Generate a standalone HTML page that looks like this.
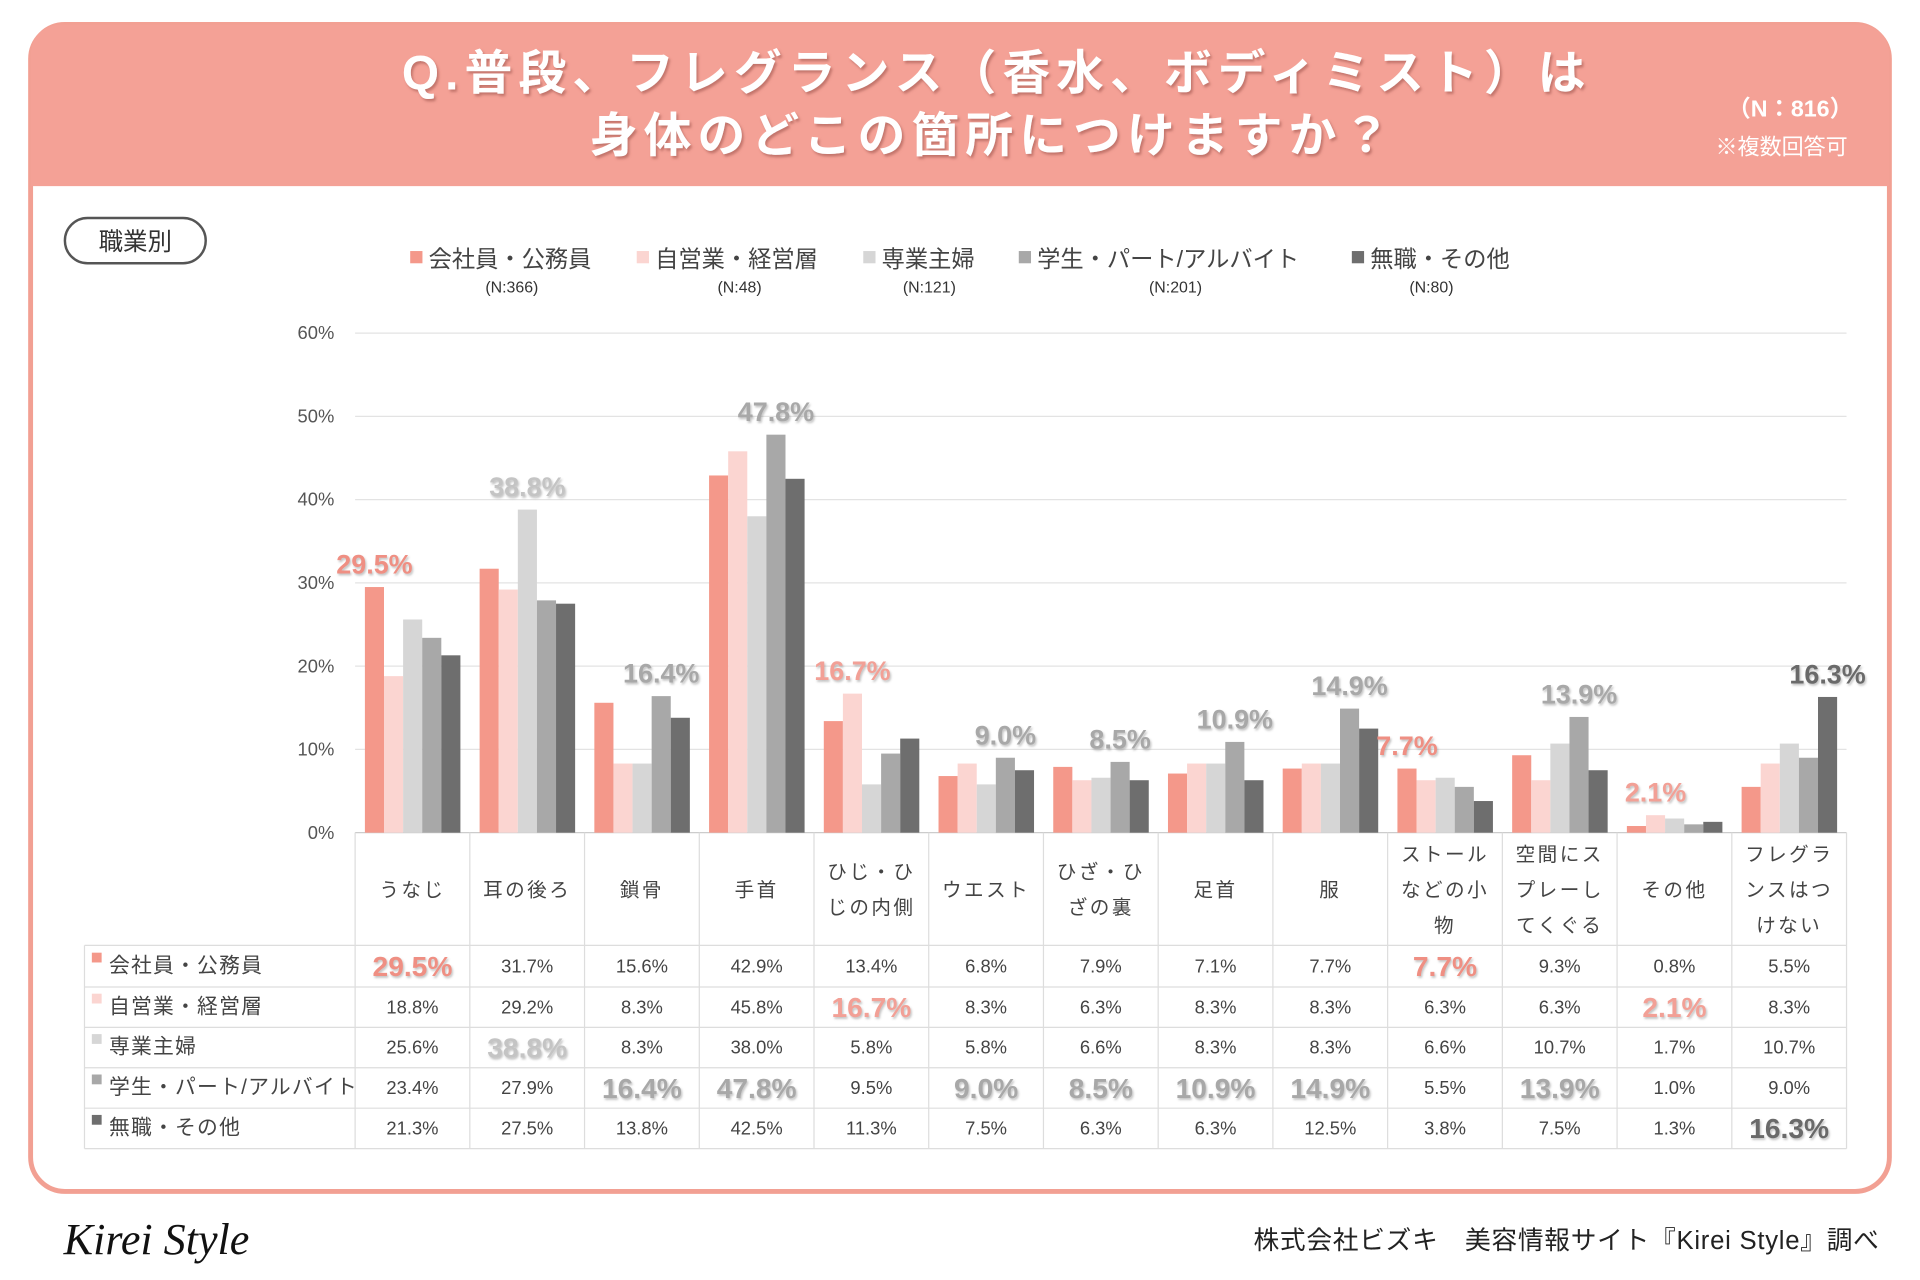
<!DOCTYPE html>
<html><head><meta charset="utf-8"><style>
html,body{margin:0;padding:0;background:#fff;}
svg{display:block;font-family:"Liberation Sans","Noto Sans CJK JP",sans-serif;}
</style></head><body>
<svg id="c" width="1920" height="1280" viewBox="0 0 1568 1045.3">
<defs><filter id="sh" x="-10%" y="-10%" width="120%" height="130%"><feDropShadow dx="1.5" dy="2" stdDeviation="1" flood-color="#9a5048" flood-opacity="0.55"/></filter>
<filter id="sh2" x="-10%" y="-10%" width="120%" height="130%"><feDropShadow dx="1" dy="1.5" stdDeviation="0.8" flood-color="#777" flood-opacity="0.45"/></filter></defs>
<rect x="25" y="20" width="1518" height="953" rx="28" fill="#fff" stroke="#f2a093" stroke-width="4"/>
<path d="M25 152 V48 Q25 20 53 20 H1515 Q1543 20 1543 48 V152 Z" fill="#f4a196"/>
<g fill="#fff" font-weight="bold" font-size="39" text-anchor="middle" filter="url(#sh)" letter-spacing="5">
<text x="814" y="73">Q.普段、フレグランス（香水、ボディミスト）は</text>
<text x="811" y="124">身体のどこの箇所につけますか？</text></g>
<text x="1462" y="95" fill="#fff" font-size="19" text-anchor="middle" font-weight="bold">（N：816）</text>
<text x="1455" y="126" fill="#fff" font-size="18" text-anchor="middle">※複数回答可</text>
<rect x="53" y="178" width="115" height="37" rx="18.5" fill="#fff" stroke="#555" stroke-width="2"/>
<text x="110.5" y="204" font-size="20" text-anchor="middle" fill="#333">職業別</text>
<g id="legend"></g><g id="plot"></g><g id="table"></g>
<text x="52" y="1024" font-family="'Liberation Serif',serif" font-style="italic" font-size="36" fill="#111">Kirei Style</text>
<text x="1535" y="1020" font-size="21" text-anchor="end" fill="#222" letter-spacing="0.6">株式会社ビズキ　美容情報サイト『Kirei Style』調べ</text>
</svg>
<script>
const categories=["うなじ","耳の後ろ","鎖骨","手首","ひじ・ひ|じの内側","ウエスト","ひざ・ひ|ざの裏","足首","服","ストール|などの小|物","空間にス|プレーし|てくぐる","その他","フレグラ|ンスはつ|けない"];
const seriesNames=["会社員・公務員","自営業・経営層","専業主婦","学生・パート/アルバイト","無職・その他"];
const seriesN=["(N:366)","(N:48)","(N:121)","(N:201)","(N:80)"];
const s1=[29.5,31.7,15.6,42.9,13.4,6.8,7.9,7.1,7.7,7.7,9.3,0.8,5.5];
const s2=[18.8,29.2,8.3,45.8,16.7,8.3,6.3,8.3,8.3,6.3,6.3,2.1,8.3];
const s3=[25.6,38.8,8.3,38.0,5.8,5.8,6.6,8.3,8.3,6.6,10.7,1.7,10.7];
const s4=[23.4,27.9,16.4,47.8,9.5,9.0,8.5,10.9,14.9,5.5,13.9,1.0,9.0];
const s5=[21.3,27.5,13.8,42.5,11.3,7.5,6.3,6.3,12.5,3.8,7.5,1.3,16.3];
const yTicks=[0,10,20,30,40,50,60];
const series=[s1,s2,s3,s4,s5];
const colors=["#f4988a","#fbd5d1","#d6d6d6","#a8a8a8","#6e6e6e"];
const hiColors=["#ef8f83","#f2a096","#c4c4c4","#a8a8a8","#6a6a6a"];
const NS="http://www.w3.org/2000/svg";
function mk(tag,attrs,parent,txt){const e=document.createElementNS(NS,tag);for(const k in attrs)e.setAttribute(k,attrs[k]);if(txt!=null)e.textContent=txt;parent.appendChild(e);return e;}
const x0=290,x1=1508,yBase=680,yTop=272,yMax=60;
const colW=(x1-x0)/categories.length;
const y=v=>yBase-(v/yMax)*(yBase-yTop);
const colX=i=>x0+i*colW;
const barW=15.6,barOff=8;
const lg=document.getElementById('legend');
const lgX=[335,520,705,832,1104];const lgC=[418,604,759,960,1169];
seriesNames.forEach((n,i)=>{
 const r=mk('rect',{x:lgX[i],y:205,width:10,height:10,fill:colors[i]},lg);
 
 
 const t=mk('text',{x:lgX[i]+15,y:218,'font-size':19,fill:'#444'},lg,n);
 
 
 const t2=mk('text',{x:lgC[i],y:239,'font-size':13,fill:'#333','text-anchor':'middle'},lg,seriesN[i]);
 
 
});
const p=document.getElementById('plot');
yTicks.forEach(v=>{
 const l=mk('line',{x1:x0,x2:x1,y1:y(v),y2:y(v),stroke:v===0?'#ccc':'#e3e3e3','stroke-width':1},p);
 
 
 const t=mk('text',{x:273,y:y(v)+5,'font-size':15,fill:'#555','text-anchor':'end'},p,v+'%');
 
 
});
const maxIdx=categories.map((c,i)=>{let m=0;series.forEach((s,j)=>{if(s[i]>series[m][i])m=j;});return m;});
categories.forEach((c,i)=>{
 series.forEach((s,j)=>{
  const b=mk('rect',{x:colX(i)+barOff+j*barW,y:y(s[i]),width:barW,height:yBase-y(s[i]),fill:colors[j]},p);
  
  
 });
 const m=maxIdx[i];
 const t=mk('text',{x:colX(i)+barOff+m*barW+barW/2,y:y(series[m][i])-11,'font-size':22,'font-weight':'bold',fill:hiColors[m],'text-anchor':'middle',filter:'url(#sh2)'},p,series[m][i].toFixed(1)+'%');
 
 
});
const tb=document.getElementById('table');
const rowY=[772,806,839,872,905,938];
categories.forEach((c,i)=>{
 const lines=c.split('|');
 const cy=726;const st=cy-(lines.length-1)*29/2;
 lines.forEach((ln,k)=>{
  const t=mk('text',{x:colX(i)+colW/2,y:st+k*29+6,'font-size':16,fill:'#444','text-anchor':'middle','letter-spacing':2},tb,ln);
  
  
 });
});
for(let i=0;i<=categories.length;i++){
 const l=mk('line',{x1:colX(i),x2:colX(i),y1:yBase,y2:938,stroke:'#ddd'},tb);
 
 
}
const lv=mk('line',{x1:69,x2:69,y1:772,y2:938,stroke:'#ddd'},tb);


rowY.forEach(r=>{
 const l=mk('line',{x1:69,x2:x1,y1:r,y2:r,stroke:'#ddd'},tb);
 
 
});
series.forEach((s,j)=>{
 const cy=(rowY[j]+rowY[j+1])/2;
 const sq=mk('rect',{x:75,y:cy-11,width:8,height:8,fill:colors[j]},tb);
 
 
 const t=mk('text',{x:89,y:cy+5,'font-size':17,fill:'#444','letter-spacing':1},tb,seriesNames[j]);
 
 
 s.forEach((v,i)=>{
  const hi=maxIdx[i]===j;
  const c=mk('text',{x:colX(i)+colW/2,y:cy+(hi?8:5),'font-size':hi?23:15,'font-weight':hi?'bold':'normal',fill:hi?hiColors[j]:'#444','text-anchor':'middle'},tb,v.toFixed(1)+'%');
  if(hi)c.setAttribute('filter','url(#sh2)');
  
  
 });
});
</script>
</body></html>
